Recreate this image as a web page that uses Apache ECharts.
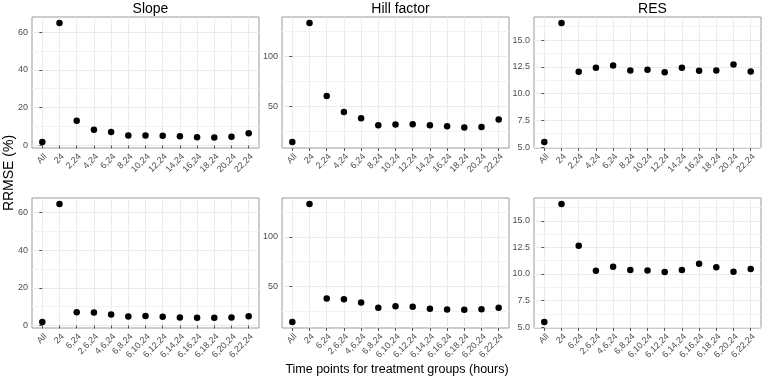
<!DOCTYPE html>
<html>
<head>
<meta charset="utf-8">
<script src="https://cdn.jsdelivr.net/npm/echarts@6/dist/echarts.min.js"></script>
<style>
  html, body { margin: 0; padding: 0; background: #fff; }
  #chart { width: 763px; height: 378px; }
</style>
</head>
<body>
<div id="chart"></div>
<script>
// categories for top row and bottom row
var catsTop = ["All", "24", "2,24", "4,24", "6,24", "8,24", "10,24", "12,24", "14,24", "16,24", "18,24", "20,24", "22,24"];
var catsBottom = ["All", "24", "6,24", "2,6,24", "4,6,24", "6,8,24", "6,10,24", "6,12,24", "6,14,24", "6,16,24", "6,18,24", "6,20,24", "6,22,24"];

// RRMSE (%) values
var slopeTop = [1.8, 64.8, 13.1, 8.3, 7.1, 5.3, 5.3, 5.1, 4.8, 4.4, 4.2, 4.6, 6.5];
var hillTop = [14.3, 133, 60.3, 44.3, 38, 31, 31.7, 32, 31, 30, 28.7, 29.3, 36.7];
var resTop = [5.47, 16.6, 12.03, 12.41, 12.63, 12.16, 12.22, 12.0, 12.41, 12.13, 12.16, 12.72, 12.06];
var slopeBottom = [1.8, 64.6, 7.06, 6.9, 5.8, 4.8, 5.1, 4.6, 4.2, 4.1, 4.1, 4.2, 4.9];
var hillBottom = [14.3, 133, 38, 37.3, 34, 28.7, 30.3, 29.7, 27.7, 27, 26.7, 27.3, 28.7];
var resBottom = [5.47, 16.6, 12.66, 10.31, 10.69, 10.38, 10.34, 10.19, 10.38, 10.97, 10.63, 10.22, 10.47];

// y tick labels (major) and minor grid values
var slopeTicks = [0, 20, 40, 60], slopeMinor = [10, 30, 50];
var hillTicks = [50, 100], hillMinor = [25, 75, 125];
var resTicks = [5, 7.5, 10, 12.5, 15], resMinor = [6.25, 8.75, 11.25, 13.75, 16.25];

var titles = ["Slope", "Hill factor", "RES"];

var panels = [
    {cats: catsTop, vals: slopeTop, ticks: slopeTicks, minor: slopeMinor, dec: 0},
    {cats: catsTop, vals: hillTop, ticks: hillTicks, minor: hillMinor, dec: 0},
    {cats: catsTop, vals: resTop, ticks: resTicks, minor: resMinor, dec: 1},
    {cats: catsBottom, vals: slopeBottom, ticks: slopeTicks, minor: slopeMinor, dec: 0},
    {cats: catsBottom, vals: hillBottom, ticks: hillTicks, minor: hillMinor, dec: 0},
    {cats: catsBottom, vals: resBottom, ticks: resTicks, minor: resMinor, dec: 1}
];

var lefts = [32, 282, 534];
var tops = [17, 198];
var W = 227, H = 131;
var fontFam = "Liberation Sans, Arial, sans-serif";

var chart = echarts.init(document.getElementById("chart"));

var grids = [], xAxes = [], yAxes = [], series = [];
var idx = [];
for (var k = 0; k < 13; k++) idx.push(k);

for (var i = 0; i < panels.length; i++) {
    var p = panels[i];
    var col = i % 3, row = Math.floor(i / 3);
    var lo = Math.min.apply(null, p.vals), hi = Math.max.apply(null, p.vals);
    var pad = (hi - lo) * 0.05;
    grids.push({
        left: lefts[col], top: tops[row], width: W, height: row == 0 ? H : 130,
        show: true, borderColor: "#9a9a9a", borderWidth: 1, backgroundColor: "#fff"
    });
    (function (cats) {
        xAxes.push({
            type: "value", gridIndex: i, min: -0.6, max: 12.6,
            axisLine: {show: false},
            axisTick: {show: true, length: 3, lineStyle: {color: "#555"}, customValues: idx},
            axisLabel: {
                customValues: idx, rotate: 45, fontSize: 9, color: "#4d4d4d", margin: 4,
                verticalAlign: "top", fontFamily: fontFam,
                formatter: function (v) { return cats[Math.round(v)]; }
            },
            splitLine: {show: true, lineStyle: {color: "#ebebeb", width: 1}}
        });
    })(p.cats);
    (function (dec) {
        yAxes.push({
            type: "value", gridIndex: i, min: lo - pad, max: hi + pad,
            axisLine: {show: false},
            axisTick: {show: true, length: 3, lineStyle: {color: "#555"}, customValues: p.ticks},
            axisLabel: {
                customValues: p.ticks, fontSize: 9, color: "#4d4d4d", margin: 4,
                fontFamily: fontFam,
                formatter: function (v) { return v.toFixed(dec); }
            },
            splitLine: {show: true, lineStyle: {color: "#ebebeb", width: 1}}
        });
    })(p.dec);
    var pts = [];
    for (var j = 0; j < p.vals.length; j++) pts.push([j, p.vals[j]]);
    series.push({
        type: "scatter", xAxisIndex: i, yAxisIndex: i, data: pts,
        symbolSize: 6.5, itemStyle: {color: "#000", opacity: 1},
        silent: true, z: 5,
        markLine: {
            silent: true, symbol: "none", label: {show: false}, z: 1,
            lineStyle: {color: "#f2f2f2", width: 1, type: "solid"},
            data: p.minor.map(function (m) { return {yAxis: m}; })
        }
    });
}

var titleOpts = [];
for (var c = 0; c < 3; c++) {
    titleOpts.push({
        text: titles[c], left: lefts[c] + W / 2, top: -3, textAlign: "center",
        textStyle: {fontSize: 14, fontWeight: "normal", color: "#000", fontFamily: fontFam}
    });
}

chart.setOption({
    animation: false,
    title: titleOpts,
    grid: grids,
    xAxis: xAxes,
    yAxis: yAxes,
    series: series,
    graphic: [
        {type: "text", x: 9, y: 173, rotation: Math.PI / 2,
         style: {text: "RRMSE (%)", fontSize: 14, fill: "#000", fontFamily: fontFam,
                 textAlign: "center", textVerticalAlign: "middle"}},
        {type: "text", x: 397, y: 370,
         style: {text: "Time points for treatment groups (hours)", fontSize: 12.5, fill: "#000",
                 fontFamily: fontFam, textAlign: "center", textVerticalAlign: "middle"}}
    ]
});
</script>
</body>
</html>
